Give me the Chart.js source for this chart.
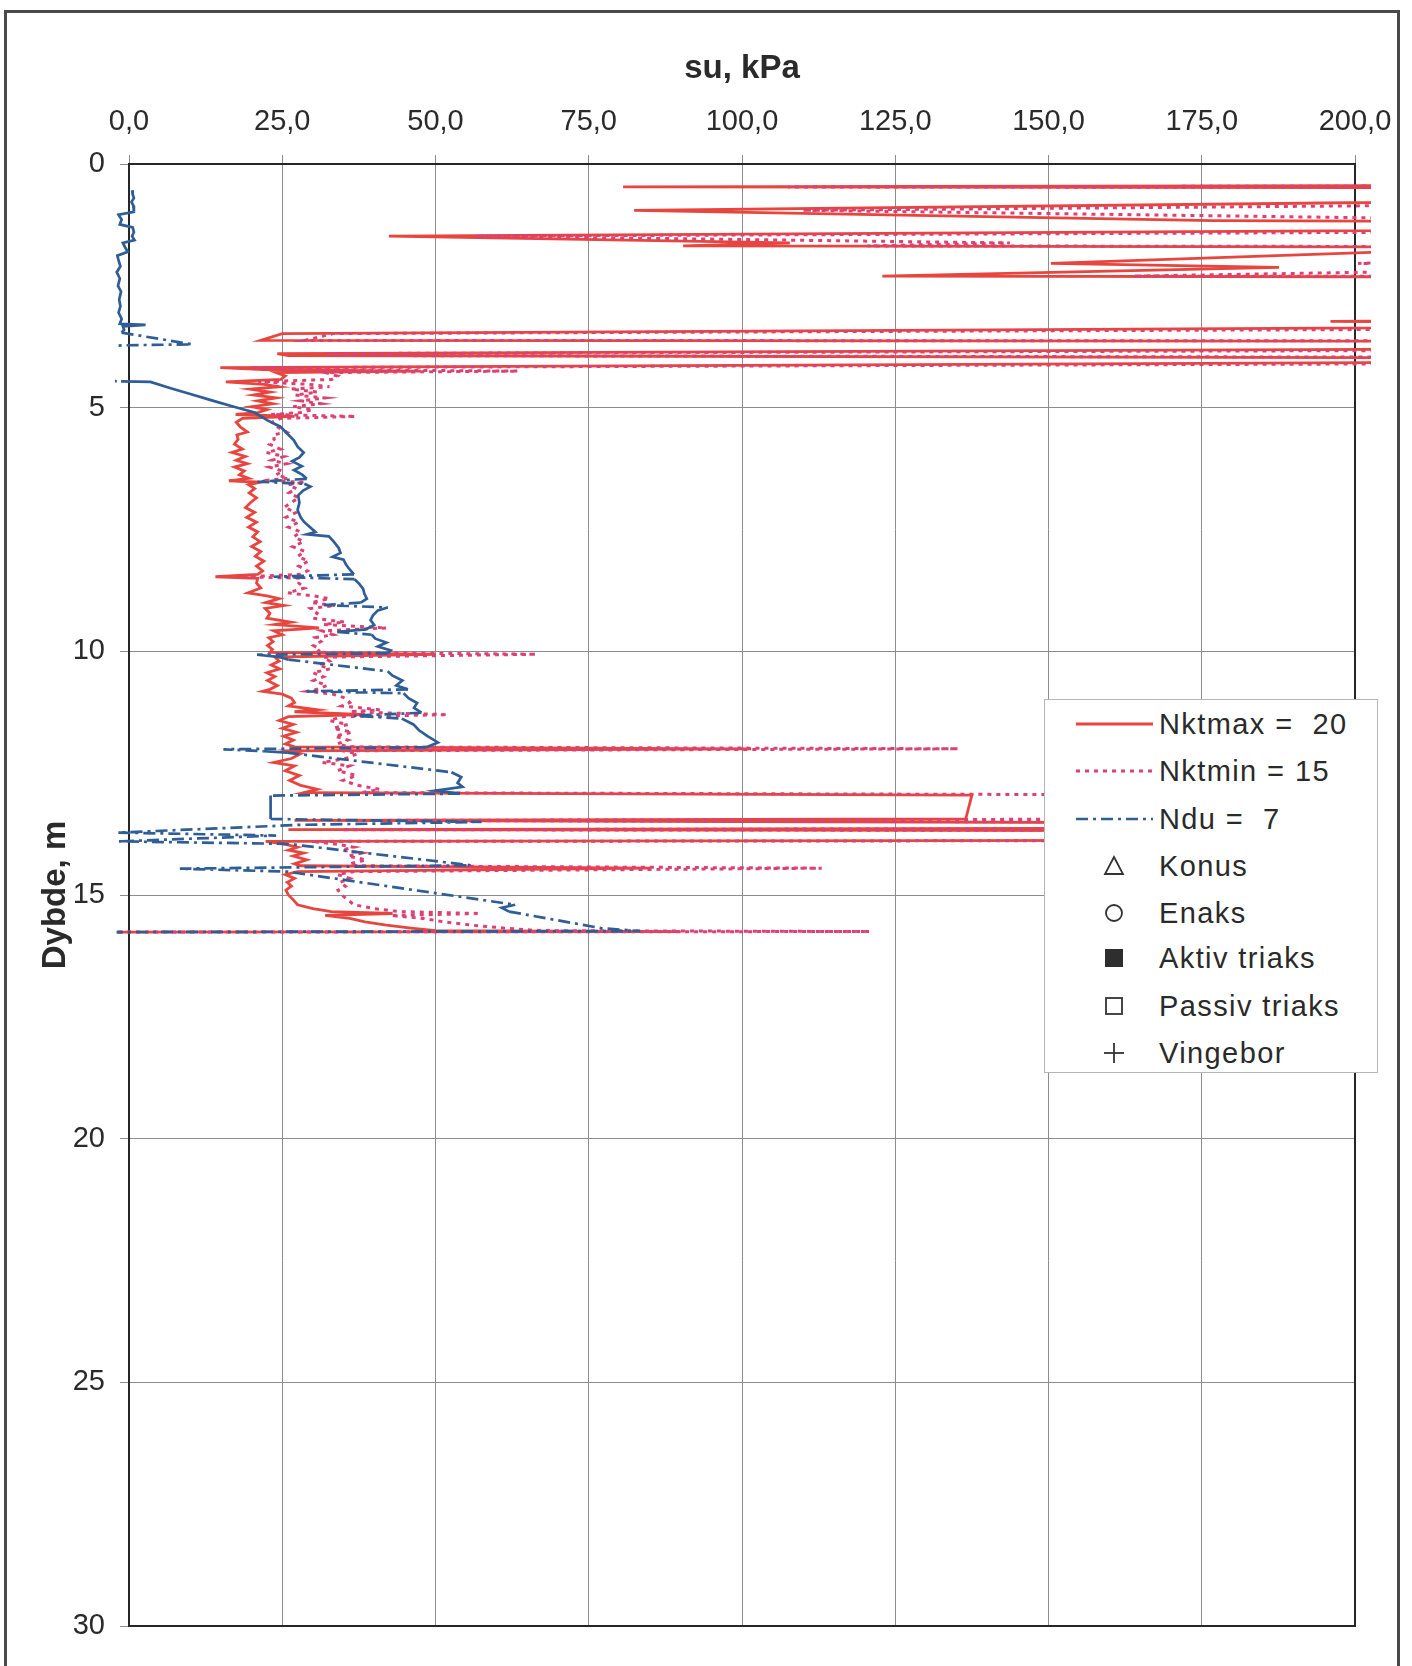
<!DOCTYPE html>
<html>
<head>
<meta charset="utf-8">
<script src="https://cdn.jsdelivr.net/npm/chart.js@4.4.1/dist/chart.umd.min.js"></script>
<style>
  html, body { margin: 0; padding: 0; background: #fff; }
  body { width: 1412px; height: 1666px; position: relative; overflow: hidden; font-family: "Liberation Sans", Arial, sans-serif; }
  #frame { position: absolute; left: 4px; top: 10px; width: 1396px; height: 1720px; border: 3px solid #4a4a4a; box-sizing: border-box; }
  canvas { position: absolute; left: 0; top: 0; }
  #legend { position: absolute; left: 1044px; top: 699px; width: 334px; height: 374px; background: #fff; border: 1px solid #b5b5b5; box-sizing: border-box; }
  .row { position: absolute; left: 0; width: 100%; height: 40px; }
  .row svg { position: absolute; top: 0; }
  .row span { position: absolute; left: 114px; top: 0; line-height: 40px; font-size: 29px; color: #2a2a2a; white-space: pre; letter-spacing: 1.4px; }
</style>
</head>
<body>
<div id="frame"></div>
<canvas id="grafico" width="1412" height="1666"></canvas>
<div id="legend">
  <div class="row" style="top:4px"><svg width="120" height="40"><line x1="31" y1="20" x2="108" y2="20" stroke="#e8453f" stroke-width="2.8"/></svg><span>Nktmax =  20</span></div>
  <div class="row" style="top:51px"><svg width="120" height="40"><line x1="31" y1="20" x2="108" y2="20" stroke="#dc4172" stroke-width="3" stroke-dasharray="4 5"/></svg><span>Nktmin = 15</span></div>
  <div class="row" style="top:99px"><svg width="120" height="40"><line x1="31" y1="20" x2="108" y2="20" stroke="#2f5d96" stroke-width="2.5" stroke-dasharray="12 5 3 5"/></svg><span>Ndu =  7</span></div>
  <div class="row" style="top:146px"><svg width="120" height="40"><polygon points="69,11 78,28 60,28" fill="none" stroke="#333" stroke-width="1.8"/></svg><span>Konus</span></div>
  <div class="row" style="top:193px"><svg width="120" height="40"><circle cx="69" cy="20" r="8" fill="none" stroke="#333" stroke-width="1.8"/></svg><span>Enaks</span></div>
  <div class="row" style="top:238px"><svg width="120" height="40"><rect x="60" y="11" width="18" height="18" fill="#2e2e2e"/></svg><span>Aktiv triaks</span></div>
  <div class="row" style="top:286px"><svg width="120" height="40"><rect x="61" y="12" width="16" height="16" fill="none" stroke="#333" stroke-width="1.8"/></svg><span>Passiv triaks</span></div>
  <div class="row" style="top:333px"><svg width="120" height="40"><line x1="59" y1="20" x2="79" y2="20" stroke="#333" stroke-width="1.8"/><line x1="69" y1="10" x2="69" y2="30" stroke="#333" stroke-width="1.8"/></svg><span>Vingebor</span></div>
</div>
<script>
// Dados: dybde (m) og su (kPa) lest av figuren
const xTicks = [0, 25, 50, 75, 100, 125, 150, 175, 200];
const yTicks = [0, 5, 10, 15, 20, 25, 30];

const depthNkt = [
  0.42, 0.47, 0.50, 0.66, 0.95, 1.16, 1.22, 1.30, 1.48, 1.62, 1.68, 1.72, 1.76, 2.04, 2.12, 2.30, 2.33,
  3.18, 3.23, 3.27, 3.30, 3.48, 3.62, 3.64, 3.76, 3.89, 3.93, 4.00, 4.02, 4.18, 4.22, 4.25, 4.28, 4.35,
  4.42, 4.47, 4.52, 4.57, 4.62, 4.68, 4.74, 4.80, 4.86, 4.92, 4.98, 5.04, 5.10, 5.14, 5.18, 5.22, 5.30,
  5.40, 5.50, 5.56, 5.65, 5.75, 5.85, 5.92, 6.00, 6.08, 6.15, 6.22, 6.30, 6.38, 6.45, 6.50, 6.53, 6.58,
  6.66, 6.75, 6.85, 6.95, 7.05, 7.15, 7.25, 7.35, 7.45, 7.55, 7.65, 7.75, 7.85, 7.95, 8.05, 8.15, 8.25,
  8.35, 8.42, 8.47, 8.50, 8.60, 8.70, 8.80, 8.86, 8.92, 9.00, 9.06, 9.12, 9.22, 9.32, 9.40, 9.45, 9.52,
  9.58, 9.66, 9.72, 9.80, 9.88, 9.96, 10.02, 10.06, 10.12, 10.20, 10.28, 10.36, 10.44, 10.52, 10.60, 10.70,
  10.78, 10.82, 10.88, 10.96, 11.05, 11.12, 11.20, 11.24, 11.30, 11.34, 11.42, 11.50, 11.58, 11.66, 11.74,
  11.82, 11.90, 11.96, 12.00, 12.04, 12.10, 12.20, 12.28, 12.35, 12.45, 12.55, 12.65, 12.75, 12.83, 12.90,
  12.95, 13.44, 13.47, 13.56, 13.60, 13.66, 13.70, 13.86, 13.90, 13.96, 14.02, 14.08, 14.14, 14.20, 14.28,
  14.36, 14.40, 14.45, 14.52, 14.58, 14.66, 14.74, 14.82, 14.90, 15.00, 15.10, 15.20, 15.28, 15.34, 15.38,
  15.42, 15.48, 15.55, 15.62, 15.68, 15.73, 15.75, 15.76
];

const suNktMax = [
  300, 80.6, 300, 300, 82.4, 176.7, 300, 300, 42.4, 107.8, 90.4, 300, 215, 150.4, 187.6, 122.9, 300,
  300, 196, 300, 300, 25, 21.5, 300, 300, 24.2, 26, 300, 300, 14.9, 22, 47.6, 24, 25.5,
  24.8, 15.8, 22, 24.5, 19.8, 23, 20.3, 24, 21, 23.5, 20, 22.5, 21, 17.4, 27, 18.5, 17.5,
  18.2, 19.3, 17.6, 17.8, 17.2, 18.5, 16.8, 19, 17.5, 19.3, 17.2, 18.8, 18, 19.5, 16.3, 21.5, 19.5,
  20.5, 19.6, 20.8, 19.8, 19, 20.5, 19.2, 20.8, 19.5, 21, 20.2, 21.4, 20, 21.5, 20.6, 22, 20.8,
  21.8, 21, 14.1, 21, 20.8, 21.5, 19.4, 22.5, 24.5, 22.3, 25.3, 22.2, 23, 22.5, 26.4, 23.8, 31,
  23.6, 25, 22.8, 23.5, 22.6, 23.4, 23, 50, 23.8, 24.5, 23.2, 24.6, 22.5, 23.8, 22.6, 24.2,
  23, 21.8, 25, 26.5, 27, 26, 30.7, 27, 38.5, 26, 24.5, 26.8, 25, 27.3, 25.2,
  26.8, 25.5, 27, 101.5, 26, 28, 26.5, 23.6, 27, 25.5, 27.8, 26.2, 28, 30.7, 28.5,
  137.5, 136.5, 27, 300, 300, 26, 300, 300, 22.3, 25.5, 27.5, 26, 28.5, 26.8, 29,
  27, 28, 85, 27.5, 25.5, 27, 25.8, 26.5, 25.6, 26, 26.8, 27.5, 30, 33, 43,
  32, 36, 38.5, 42, 46, 50, 90, -2
];

const suNktMin = [
  400, 107.5, 400, 400, 109.9, 235.6, 400, 400, 56.5, 143.7, 120.5, 400, 286.7, 200.5, 250.1, 163.9, 400,
  400, 261.3, 400, 400, 33.3, 28.7, 400, 400, 32.3, 34.7, 400, 400, 19.9, 29.3, 63.5, 32, 34,
  33.1, 21.1, 29.3, 32.7, 26.4, 30.7, 27.1, 32, 28, 31.3, 26.7, 30, 28, 23.2, 37, 24.7, 23.3,
  24.3, 25.7, 23.5, 23.7, 22.9, 24.7, 22.4, 25.3, 23.3, 25.7, 22.9, 25.1, 24, 26, 21.7, 28.7, 26,
  27.3, 26.1, 27.7, 26.4, 25.3, 27.3, 25.6, 27.7, 26, 28, 26.9, 28.5, 26.7, 28.7, 27.5, 29.3, 27.7,
  29.1, 28, 18.8, 28, 27.7, 28.7, 25.9, 30, 32.7, 29.7, 33.7, 29.6, 30.7, 30, 35.2, 31.7, 42,
  31.5, 33.3, 30.4, 31.3, 30.1, 31.2, 30.7, 66.5, 31.7, 32.7, 30.9, 32.8, 30, 31.7, 30.1, 32.3,
  30.7, 29.1, 33.3, 35.3, 36, 34.7, 40.9, 36, 52, 34.7, 32.7, 35.7, 33.3, 36.4, 33.6,
  35.7, 34, 36, 135.3, 34.7, 37.3, 35.3, 31.5, 36, 34, 37.1, 34.9, 37.3, 40.9, 38,
  183.3, 182, 36, 400, 400, 34.7, 400, 400, 29.7, 34, 36.7, 34.7, 38, 35.7, 38.7,
  36, 37.3, 113, 36.7, 34, 36, 34.4, 35.3, 34.1, 34.7, 35.7, 36.7, 40, 44, 57.3,
  42.7, 48, 51.3, 56, 61.3, 66.7, 120.8, -2.7
];

const depthDu = [
  0.54, 0.62, 0.70, 0.78, 0.85, 0.98, 1.04, 1.14, 1.24, 1.30, 1.40, 1.48, 1.56, 1.62, 1.72, 1.80, 1.88,
  1.98, 2.10, 2.22, 2.35, 2.50, 2.62, 2.78, 2.92, 3.05, 3.18, 3.28, 3.30, 3.33, 3.40, 3.46, 3.70, 3.72,
  3.76, 4.44, 4.46, 4.47, 4.60, 4.72, 4.85, 4.98, 5.10, 5.26, 5.39, 5.53, 5.67, 5.80, 5.92, 6.02, 6.10,
  6.20, 6.28, 6.38, 6.46, 6.52, 6.56, 6.62, 6.70, 6.80, 6.95, 7.10, 7.25, 7.35, 7.45, 7.55, 7.60, 7.64,
  7.75, 7.88, 7.98, 8.06, 8.12, 8.22, 8.32, 8.42, 8.47, 8.52, 8.62, 8.72, 8.82, 8.92, 9.00, 9.05, 9.10,
  9.16, 9.26, 9.36, 9.46, 9.55, 9.60, 9.66, 9.74, 9.82, 9.90, 9.98, 10.04, 10.07, 10.12, 10.17, 10.41,
  10.50, 10.60, 10.70, 10.78, 10.82, 10.86, 10.96, 11.06, 11.16, 11.26, 11.32, 11.38, 11.50, 11.62, 11.74,
  11.87, 11.97, 12.01, 12.05, 12.08, 12.48, 12.58, 12.70, 12.78, 12.86, 12.92, 12.96, 13.44, 13.50, 13.56,
  13.72, 13.78, 13.90, 13.95, 14.39, 14.46, 14.52, 15.20, 15.26, 15.34, 15.68, 15.74, 15.76
];

const suDu = [
  0.5, 0.6, 0.8, 0.4, 0.7, 0.8, -1.7, -1.2, -1.5, 0.6, 0.8, 0.5, 0.9, -1.0, -0.6, -0.2, -1.9,
  -1.7, -1.4, -2.0, -1.5, -1.8, -1.3, -1.6, -1.4, -1.7, -1.2, -1.5, 2.7, -1.0, -0.8, -1.2, 10.3, -0.6,
  -8, -8, -1.3, 3.5, 6.8, 10, 13.5, 17.1, 20.5, 22.6, 24.7, 25.8, 26.9, 27.5, 28.5, 27.8, 26.6,
  28.2, 26.9, 28.3, 29, 20.9, 28.6, 29.6, 28.4, 27.6, 27.8, 27.5, 28, 28.6, 29.5, 30.4, 29, 32.6,
  33.4, 34.2, 34.5, 33.2, 35, 35.4, 36, 36.7, 23.6, 36.8, 37.6, 38.2, 38.4, 38.8, 37.8, 31.8, 42.2,
  40.6, 39.8, 39.4, 40, 38.6, 34, 39.6, 40.2, 42, 40.6, 42.7, 42.2, 20.9, 24.7, 26, 42.2,
  43, 44.6, 43.6, 45.5, 29, 44.8, 45.6, 47, 46.5, 47.7, 36.7, 44.5, 46.4, 47.3, 48.7,
  50.4, 48.5, 15.4, 22, 25.8, 52.6, 54.2, 53.6, 54.4, 50, 54, 23.1, 23.1, 57.5, 28,
  -1.8, 24, -1.8, 25.8, 55.8, 8.3, 25.8, 63, 60.8, 62, 77, 83.4, -2
];

const toPoints = (depths, values) => depths.map((d, i) => ({ x: values[i], y: d }));
const segLen = c => Math.hypot(c.p1.x - c.p0.x, c.p1.y - c.p0.y);
const txt = '#2a2a2a';

Chart.defaults.font.family = '"Liberation Sans", Arial, sans-serif';

// ramme rundt plottet
const plotFrame = {
  id: 'plotFrame',
  beforeDatasetsDraw(chart) {
    const { ctx, chartArea: a } = chart;
    ctx.save();
    ctx.strokeStyle = '#262626';
    ctx.lineWidth = 2;
    ctx.strokeRect(a.left, a.top, a.right - a.left, a.bottom - a.top);
    ctx.restore();
  }
};

const clipBox = { left: 14, right: 16, top: 2, bottom: 2 };

new Chart(document.getElementById('grafico'), {
  type: 'scatter',
  data: {
    datasets: [
      {
        label: 'Nktmax = 20',
        data: toPoints(depthNkt, suNktMax),
        showLine: true, pointRadius: 0,
        borderColor: '#e8453f', borderWidth: 2.8,
        clip: clipBox, order: 3
      },
      {
        label: 'Nktmin = 15',
        data: toPoints(depthNkt, suNktMin),
        showLine: true, pointRadius: 0,
        borderColor: '#dc4172', borderWidth: 3, borderDash: [4, 5],
        clip: clipBox, order: 2
      },
      {
        label: 'Ndu = 7',
        data: toPoints(depthDu, suDu),
        showLine: true, pointRadius: 0,
        borderColor: '#2f5d96', borderWidth: 2.7, borderDash: [],
        segment: { borderDash: c => segLen(c) > 30 ? [12, 5, 3, 5] : undefined },
        clip: clipBox, order: 1
      }
    ]
  },
  options: {
    responsive: false,
    animation: false,
    devicePixelRatio: 1,
    layout: { padding: { left: 0, top: 0, right: 57, bottom: 40 } },
    plugins: { legend: { display: false }, tooltip: { enabled: false } },
    scales: {
      x: {
        type: 'linear', position: 'top', min: 0, max: 200,
        afterFit: s => { s.height = 164; },
        afterBuildTicks: s => { s.ticks = xTicks.map(v => ({ value: v })); },
        ticks: {
          callback: v => v.toFixed(1).replace('.', ','),
          padding: 16, font: { size: 29 }, color: txt, maxRotation: 0, autoSkip: false
        },
        grid: { color: '#8c8c8c', lineWidth: 1, tickLength: 9 },
        border: { display: false },
        title: { display: true, text: 'su, kPa', color: txt, font: { size: 33, weight: 'bold' }, padding: { top: 49, bottom: 0 } }
      },
      y: {
        type: 'linear', reverse: true, min: 0, max: 30,
        afterFit: s => { s.width = 129; },
        afterBuildTicks: s => { s.ticks = yTicks.map(v => ({ value: v })); },
        ticks: { callback: v => String(v), padding: 15, font: { size: 29 }, color: txt, autoSkip: false },
        grid: { color: '#8c8c8c', lineWidth: 1, tickLength: 9 },
        border: { display: false },
        title: { display: true, text: 'Dybde, m', color: txt, font: { size: 33, weight: 'bold' }, padding: { top: 36, bottom: 0 } }
      }
    }
  },
  plugins: [plotFrame]
});
</script>
</body>
</html>
